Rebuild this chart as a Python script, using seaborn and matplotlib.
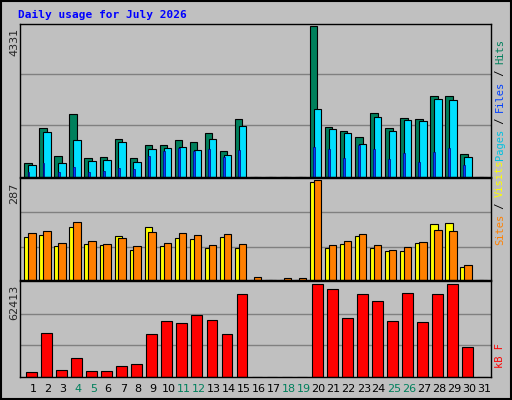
import numpy as np
import pandas as pd
import matplotlib
matplotlib.use("Agg")
import matplotlib.pyplot as plt
import seaborn as sns

days = list(range(1, 32))
hits = [392,1401,608,1793,549,578,1078,549,921,901,1048,990,1254,755,1666,0,0,0,0,4331,1430,1313,1137,1842,1401,1695,1666,2313,2313,666,0]
files = [343,1284,402,1048,461,490,990,431,813,843,872,784,1078,637,1460,0,0,0,0,1930,1372,1254,931,1725,1313,1636,1607,2224,2195,578,0]
pages = [137,402,137,284,137,167,255,225,607,754,843,754,813,578,784,0,0,0,0,872,813,549,901,813,519,695,431,725,843,343,0]
visits = [123,129,98,151,104,101,126,85,151,98,120,117,91,123,91,0,0,0,0,281,91,104,126,91,82,82,107,160,163,38,0]
sites = [135,142,107,166,113,104,120,98,138,107,135,129,101,132,104,10,0,7,7,287,101,113,132,101,85,95,110,144,141,42,0]
kbytes = [3178,29737,4540,12712,3859,3859,7264,8626,29056,37228,35866,41314,37909,29056,55603,0,0,0,0,62413,59008,39271,55603,50836,37228,56284,36547,55603,62413,19976,0]
weekend = [4, 5, 11, 12, 18, 19, 25, 26]

sns.set_style("white")
plt.rcParams['font.family'] = ['DejaVu Sans Mono', 'DejaVu Sans']
BG = "#C0C0C0"
fig = plt.figure(figsize=(5.12, 4.0), dpi=100, facecolor=BG)
L, R = 20/512, 491/512
def mkax(top, bot):
    ax = fig.add_axes([L, 1-bot/400, R-L, (bot-top)/400], facecolor=BG)
    ax.set_xlim(0.13, 31.47)
    for s in ax.spines.values():
        s.set_color("black"); s.set_linewidth(1)
    ax.set_xticks([]); ax.set_yticks([])
    return ax

x = np.array(days, dtype=float)
kw = dict(edgecolor="black", linewidth=0.8)

ax1 = mkax(24, 177)
ax1.set_ylim(0, 4331*1.01)
for g in (0.34, 0.68):
    ax1.axhline(4331*g, color="#808080", lw=1, zorder=0)
ax1.bar(x-0.33, hits, width=0.5, color="#00805C", **kw)
ax1.bar(x-0.07, files, width=0.5, color="#00E0FF", **kw)
ax1.bar(x-0.3, pages, width=0.12, color="#0040FF", edgecolor="#000080", linewidth=0.5)

ax2 = mkax(178, 280)
ax2.set_ylim(0, 287*1.02)
for g in (0.33, 0.68):
    ax2.axhline(287*g, color="#808080", lw=1, zorder=0)
ax2.bar(x-0.33, visits, width=0.5, color="#FFFF00", **kw)
ax2.bar(x-0.07, sites, width=0.5, color="#FF8000", **kw)

ax3 = mkax(281, 377)
ax3.set_ylim(0, 62413*1.03)
for g in (0.34, 0.68):
    ax3.axhline(62413*g, color="#808080", lw=1, zorder=0)
df = pd.DataFrame({"day": x-0.1, "kB": kbytes})
sns.barplot(data=df, x="day", y="kB", native_scale=True, width=0.72, color="#FF0000",
            saturation=1, edgecolor="black", linewidth=0.8, ax=ax3)
ax3.set_xlim(0.13, 31.47); ax3.set_xlabel(""); ax3.set_ylabel("")
ax3.set_xticks([]); ax3.set_yticks([])

for d in days:
    fig.text((20 + (d-0.13)/31.34*471)/512, 1-389/400, str(d), ha="center", va="center",
             fontsize=8, family="DejaVu Sans",
             color="#00805C" if d in weekend else "black")

fig.text(18/512, 1-15/400, "Daily usage for July 2026", color="#0000FF",
         fontsize=8, fontweight="bold", ha="left", va="center")
for yy, t in ((28, "4331"), (183, "287"), (285, "62413")):
    fig.text(14/512, 1-yy/400, t, rotation=90, ha="center", va="top", fontsize=8, family="DejaVu Sans")

def vlabel(parts, ybot):
    y = ybot
    for t, c in parts:
        fig.text(500/512, 1-y/400, t, rotation=90, ha="center", va="bottom", fontsize=7.5, color=c)
        y -= len(t)*6.0
vlabel([("Pages", "#00C0E0"), (" / ", "black"), ("Files", "#0040FF"), (" / ", "black"), ("Hits", "#00805C")], 160)
vlabel([("Sites", "#FF8000"), (" / ", "black"), ("Visits", "#FFFF00")], 245)
vlabel([("kB F", "#FF0000")], 368)

fig.patches.append(plt.Rectangle((0.002, 0.002), 0.996, 0.996, transform=fig.transFigure,
                                 fill=False, edgecolor="black", linewidth=1.5))
fig.savefig("out.png", dpi=100, facecolor=BG)
